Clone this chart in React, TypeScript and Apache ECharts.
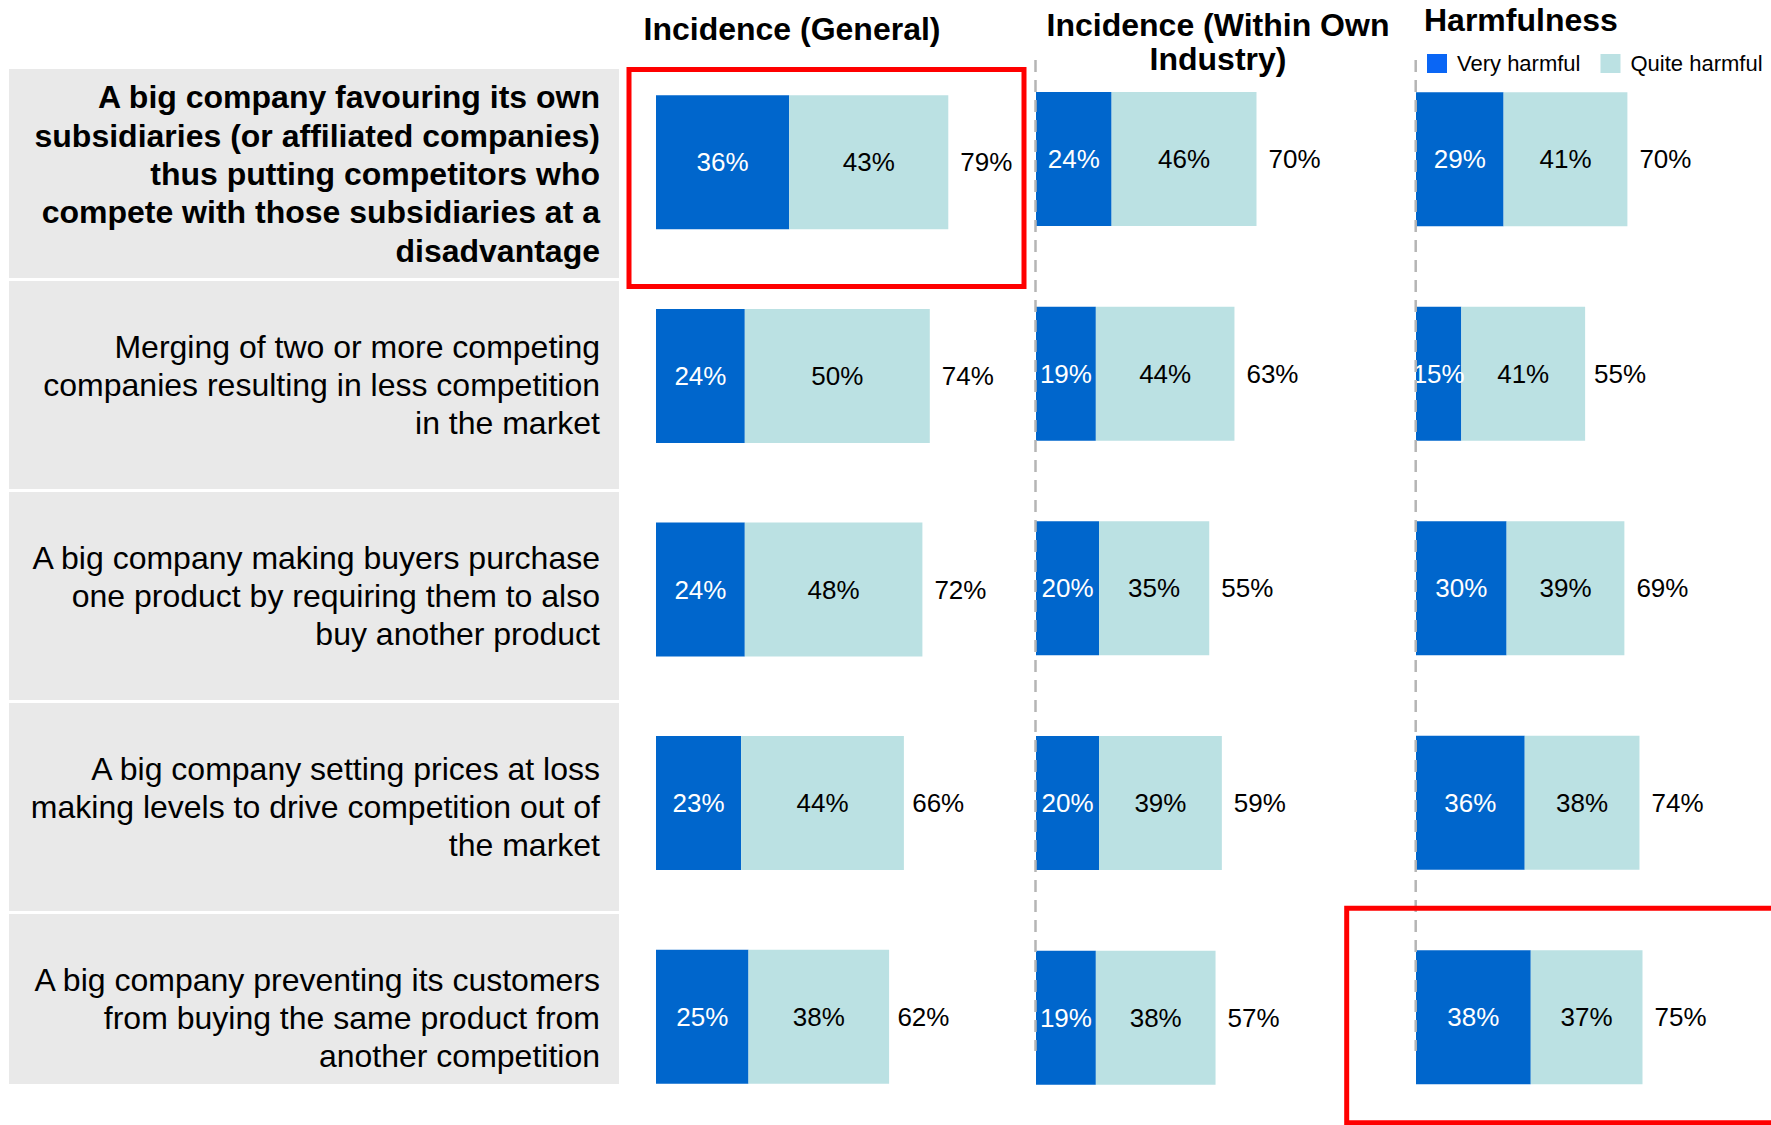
import React, { useEffect, useRef } from 'react';
import * as echarts from 'echarts';

const categories = [
  'A big company favouring its own\nsubsidiaries (or affiliated companies)\nthus putting competitors who\ncompete with those subsidiaries at a\ndisadvantage',
  'Merging of two or more competing\ncompanies resulting in less competition\nin the market',
  'A big company making buyers purchase\none product by requiring them to also\nbuy another product',
  'A big company setting prices at loss\nmaking levels to drive competition out of\nthe market',
  'A big company preventing its customers\nfrom buying the same product from\nanother competition',
];
const highlightedCategory = 0;

const seriesNames = ['Very harmful', 'Quite harmful'];
const panelTitles = ['Incidence (General)', 'Incidence (Within Own\nIndustry)', 'Harmfulness'];

const generalVery = [36, 24, 24, 23, 25];
const generalQuite = [43, 50, 48, 44, 38];
const generalTotal = [79, 74, 72, 66, 62];

const ownVery = [24, 19, 20, 20, 19];
const ownQuite = [46, 44, 35, 39, 38];
const ownTotal = [70, 63, 55, 59, 57];

const harmVery = [29, 15, 30, 36, 38];
const harmQuite = [41, 41, 39, 38, 37];
const harmTotal = [70, 55, 69, 74, 75];

const BLUE = '#0066cc';
const LEGEND_BLUE = '#0a66f5';
const LIGHT = '#bbe1e3';
const GREY = '#e9e9e9';
const FONT = '"Liberation Sans", Arial, Helvetica, sans-serif';

export default function App() {
  const ref = useRef<HTMLDivElement>(null);

  useEffect(() => {
    const chart = echarts.init(ref.current!, null, { renderer: 'svg' });

    const panels = [
      { very: generalVery, quite: generalQuite, total: generalTotal, grid: { left: 656, top: 55.5, width: 370, height: 1068 } },
      { very: ownVery, quite: ownQuite, total: ownTotal, grid: { left: 1036, top: 51.7, width: 315, height: 1076 } },
      { very: harmVery, quite: harmQuite, total: harmTotal, grid: { left: 1416, top: 52, width: 302, height: 1072.5 } },
    ];

    const grids: any[] = panels.map((p) => ({ ...p.grid, containLabel: false }));
    grids.push({ left: 9, top: 68.5, width: 610, height: 1055, containLabel: false });

    const xAxes: any[] = grids.map((_, i) => ({
      type: 'value',
      gridIndex: i,
      min: 0,
      max: i === 3 ? 1 : 100,
      show: false,
    }));

    const yAxes: any[] = panels.map((_, i) => ({
      type: 'category',
      gridIndex: i,
      inverse: true,
      data: categories,
      show: false,
    }));
    yAxes.push({
      type: 'category',
      gridIndex: 3,
      inverse: true,
      position: 'right',
      data: categories.map((c, i) => ({
        value: c,
        textStyle: { fontWeight: i === highlightedCategory ? 'bold' : 'normal' },
      })),
      axisLine: { show: false },
      axisTick: { show: false },
      splitLine: { show: false },
      axisLabel: {
        inside: true,
        interval: 0,
        margin: 19,
        fontSize: 32,
        lineHeight: 38.4,
        color: '#000',
        fontFamily: FONT,
        align: 'right',
      },
    });

    const series: any[] = [];
    panels.forEach((p, i) => {
      const common = {
        type: 'bar',
        xAxisIndex: i,
        yAxisIndex: i,
        barWidth: 134,
        barGap: '-100%',
      };
      series.push({
        ...common,
        name: seriesNames[0],
        stack: 'panel' + i,
        data: p.very,
        itemStyle: { color: BLUE },
        label: { show: true, position: 'inside', color: '#fff', fontSize: 26, fontFamily: FONT, formatter: '{c}%' },
      });
      series.push({
        ...common,
        name: seriesNames[1],
        stack: 'panel' + i,
        data: p.quite,
        itemStyle: { color: LIGHT },
        label: { show: true, position: 'inside', color: '#000', fontSize: 26, fontFamily: FONT, formatter: '{c}%' },
      });
      series.push({
        ...common,
        name: 'Total',
        data: p.total,
        z: 1,
        silent: true,
        itemStyle: { color: 'rgba(0,0,0,0)' },
        label: { show: true, position: 'right', distance: 12, color: '#000', fontSize: 26, fontFamily: FONT, formatter: '{c}%' },
      });
    });

    const rowBoxes = [
      [69, 209],
      [281, 208],
      [492, 208],
      [703, 208],
      [914, 170],
    ];

    const graphic: any[] = [];
    rowBoxes.forEach(([y, h]) => {
      graphic.push({ type: 'rect', z: -10, shape: { x: 9, y, width: 610, height: h }, style: { fill: GREY } });
    });
    graphic.push({
      type: 'text', z: 50, x: 792, y: 29,
      style: { text: panelTitles[0], fontSize: 32, fontWeight: 'bold', fontFamily: FONT, fill: '#000', align: 'center', verticalAlign: 'middle' },
    });
    graphic.push({
      type: 'text', z: 50, x: 1218, y: 42,
      style: { text: panelTitles[1], fontSize: 32, fontWeight: 'bold', fontFamily: FONT, fill: '#000', align: 'center', verticalAlign: 'middle', lineHeight: 34 },
    });
    graphic.push({
      type: 'text', z: 50, x: 1424, y: 20,
      style: { text: panelTitles[2], fontSize: 32, fontWeight: 'bold', fontFamily: FONT, fill: '#000', align: 'left', verticalAlign: 'middle' },
    });
    [1035.5, 1415.7].forEach((x) => {
      graphic.push({
        type: 'line', z: 100,
        shape: { x1: x, y1: 60, x2: x, y2: 1051 },
        style: { stroke: '#b5b5b5', lineWidth: 2.5, lineDash: [12, 8] },
      });
    });
    graphic.push({
      type: 'rect', z: 100,
      shape: { x: 629, y: 69.5, width: 395, height: 217 },
      style: { fill: 'none', stroke: '#ff0000', lineWidth: 5 },
    });
    graphic.push({
      type: 'rect', z: 100,
      shape: { x: 1346.7, y: 908.3, width: 500, height: 214.5 },
      style: { fill: 'none', stroke: '#ff0000', lineWidth: 5 },
    });

    chart.setOption({
      animation: false,
      backgroundColor: '#ffffff',
      textStyle: { fontFamily: FONT },
      grid: grids,
      xAxis: xAxes,
      yAxis: yAxes,
      legend: {
        data: [
          { name: seriesNames[0], itemStyle: { color: LEGEND_BLUE } },
          { name: seriesNames[1] },
        ],
        orient: 'horizontal',
        left: 1427,
        top: 52.5,
        width: 400,
        padding: 0,
        itemWidth: 20,
        itemHeight: 19,
        itemGap: 20,
        icon: 'rect',
        selectedMode: false,
        textStyle: { fontSize: 22, color: '#000', fontFamily: FONT, padding: [0, 0, 0, 5] },
      },
      series,
      graphic,
    });

    return () => chart.dispose();
  }, []);

  return (
    <div
      ref={ref}
      style={{ position: 'absolute', left: 0, top: 0, width: 1771, height: 1125, background: '#fff' }}
    />
  );
}
